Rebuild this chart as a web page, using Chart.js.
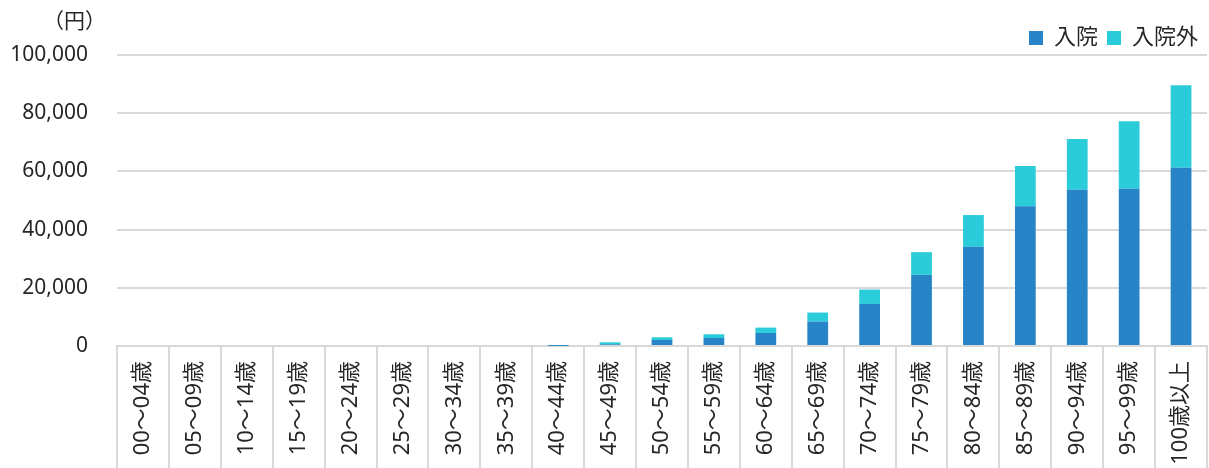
<!DOCTYPE html>
<html><head><meta charset="utf-8">
<script src="https://cdn.jsdelivr.net/npm/chart.js@4/dist/chart.umd.min.js"></script>
<style>html,body{margin:0;padding:0;background:#fff}#wrap{width:1209px;height:468px;position:relative}</style>
</head><body><div id="wrap"><canvas id="c" width="1209" height="468"></canvas></div>
<script>
const categories = ['00～04歳','05～09歳','10～14歳','15～19歳','20～24歳','25～29歳','30～34歳','35～39歳','40～44歳','45～49歳','50～54歳','55～59歳','60～64歳','65～69歳','70～74歳','75～79歳','80～84歳','85～89歳','90～94歳','95～99歳','100歳以上'];
const inpatient = [0,0,0,0,0,0,0,0,50,600,2070,2750,4480,8400,14460,24440,34080,47990,53700,54040,61270];
const outpatient = [0,0,0,0,0,0,0,0,250,670,930,1280,1850,3100,4940,7810,10920,13870,17450,23210,28370];
const yTicks = [0,20000,40000,60000,80000,100000];
const unitLabel = '（円）';
const seriesNames = ['入院','入院外'];

const FONT = "'Noto Sans','Noto Sans CJK JP',sans-serif";
const TXT = '#262626';
const GRID = '#d9d9d9';

const unitPlugin = {
  id: 'unit',
  afterDraw(chart) {
    const y = chart.scales.y;
    const ctx = chart.ctx;
    ctx.save();
    ctx.font = "21px " + FONT;
    ctx.fillStyle = TXT;
    ctx.textAlign = 'right';
    ctx.textBaseline = 'middle';
    ctx.fillText(unitLabel, y.right - 11, 22);
    ctx.restore();
  }
};

new Chart(document.getElementById('c'), {
  type: 'bar',
  data: {
    labels: categories,
    datasets: [
      {label: seriesNames[0], data: inpatient, backgroundColor: '#2784c7', barPercentage: 0.4, categoryPercentage: 1},
      {label: seriesNames[1], data: outpatient, backgroundColor: '#29ccd8', barPercentage: 0.4, categoryPercentage: 1}
    ]
  },
  options: {
    responsive: false,
    animation: false,
    layout: {padding: {left: 0, right: 2, top: 18, bottom: 0}},
    plugins: {
      legend: {
        position: 'top', align: 'end', maxHeight: 37,
        labels: {font: {size: 22, family: FONT}, color: TXT, boxWidth: 14, boxHeight: 14, padding: 9}
      },
      title: {display: false},
      tooltip: {enabled: false}
    },
    scales: {
      x: {
        stacked: true,
        grid: {offset: true, drawOnChartArea: false, tickLength: 122, color: GRID, lineWidth: 2},
        border: {display: true, color: GRID, width: 2},
        ticks: {font: {size: 22, family: FONT}, color: TXT, minRotation: 90, maxRotation: 90, padding: -107, autoSkip: false},
        afterFit(s) { s.height = 122; }
      },
      y: {
        stacked: true, min: 0, max: 100000,
        afterBuildTicks(s) { s.ticks = yTicks.map(v => ({value: v})); },
        grid: {color: GRID, lineWidth: 2, drawTicks: false},
        border: {display: false},
        ticks: {font: {size: 21, family: FONT}, color: TXT, padding: 29,
          callback: v => v.toLocaleString('en-US')},
        afterFit(s) { s.width = 117; }
      }
    }
  },
  plugins: [unitPlugin]
});
</script></body></html>
